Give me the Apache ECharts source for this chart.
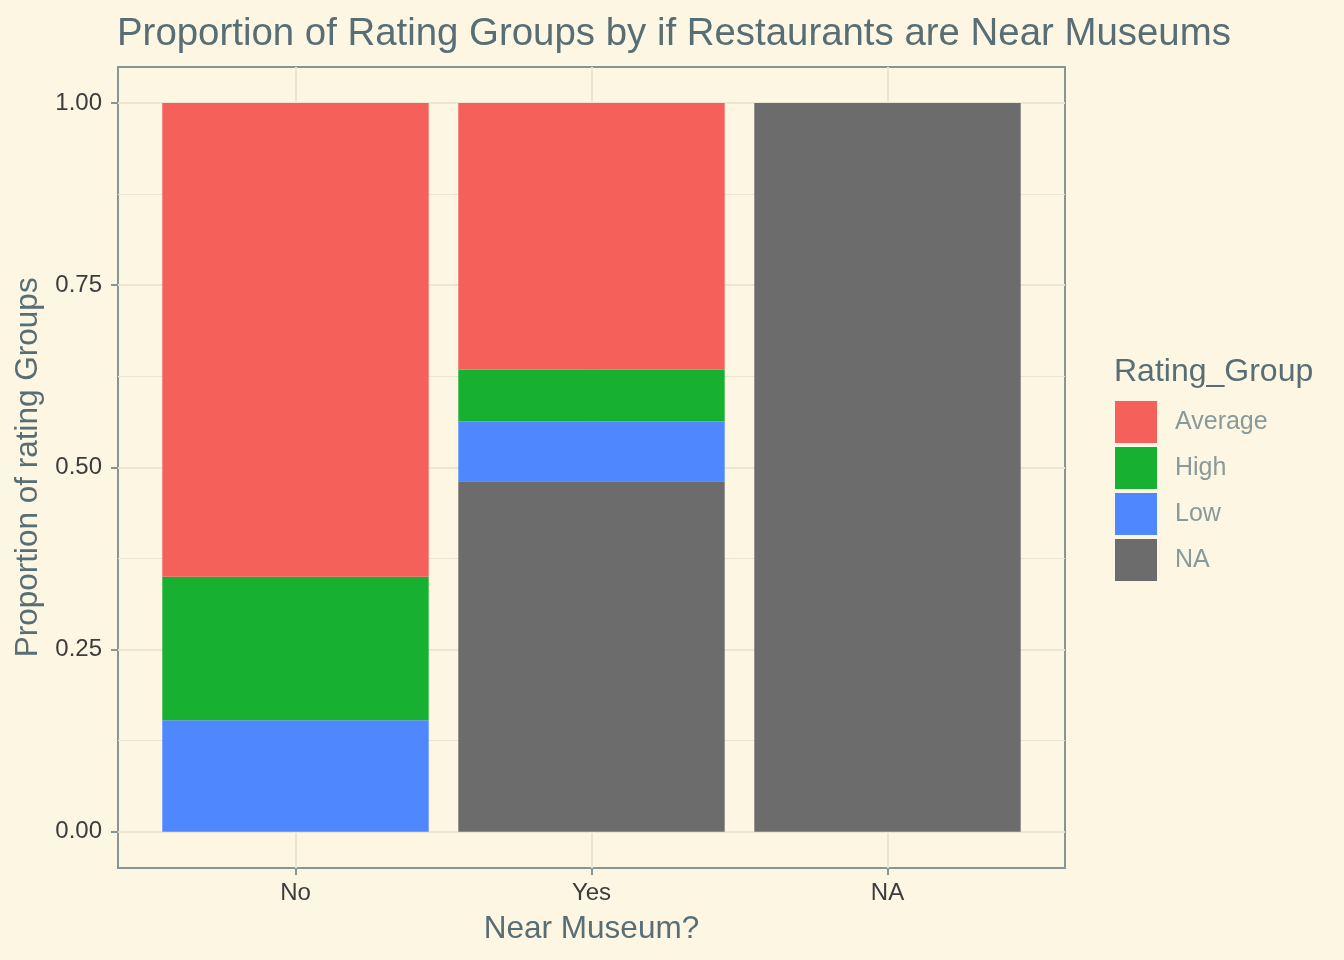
<!DOCTYPE html>
<html>
<head>
<meta charset="utf-8">
<script src="https://cdn.jsdelivr.net/npm/echarts@6/dist/echarts.min.js"></script>
<style>
html,body{margin:0;padding:0;background:#FDF6E3;}
#chart{width:1344px;height:960px;}
</style>
</head>
<body>
<div id="chart"></div>
<script>
const categories = ['No', 'Yes', 'NA'];
const groupNames = ['Average', 'High', 'Low', 'NA'];
const averageVals = [0.650, 0.366, 0];
const highVals = [0.197, 0.071, 0];
const lowVals = [0.153, 0.082, 0];
const naVals = [0, 0.481, 1.0];

const colors = {Average: '#F5605B', High: '#18B030', Low: '#4F87FF', NA: '#6C6C6C'};
const FONT = 'Liberation Sans, Arial, Helvetica, sans-serif';
const gridCol = '#EBE5D2';
const borderCol = '#869596';

const chart = echarts.init(document.getElementById('chart'));

function barSeries(name, vals) {
  return {
    name: name, type: 'bar', stack: 'total', xAxisIndex: 0, yAxisIndex: 0,
    barWidth: '90%', data: vals, itemStyle: {color: colors[name]},
    emphasis: {disabled: true}, z: 3
  };
}

const option = {
  backgroundColor: '#FDF6E3',
  animation: false,
  textStyle: {fontFamily: FONT},
  title: [
    {text: 'Proportion of Rating Groups by if Restaurants are Near Museums', left: 117, top: 15, padding: 0,
     textStyle: {fontFamily: FONT, fontSize: 38.4, fontWeight: 'normal', color: '#586E75'}},
    {text: 'Rating_Group', left: 1114, top: 356, padding: 0,
     textStyle: {fontFamily: FONT, fontSize: 32, fontWeight: 'normal', color: '#586E75'}}
  ],
  legend: {
    data: groupNames, orient: 'vertical', left: 1115, top: 401, padding: 0,
    itemWidth: 42, itemHeight: 42, itemGap: 4, icon: 'rect', selectedMode: false,
    textStyle: {fontFamily: FONT, fontSize: 25, color: '#899A9A', padding: [0, 0, 0, 13]}
  },
  grid: [
    {left: 147.5, right: 308.5, top: 103, bottom: 128.3},
    {left: 118, right: 279, top: 103, bottom: 128.3},
    {left: 295.5, right: 456.5, top: 67, bottom: 92},
    {left: 118, right: 279, top: 67, bottom: 92, show: true, borderColor: borderCol, borderWidth: 2, backgroundColor: 'transparent'}
  ],
  xAxis: [
    {gridIndex: 0, type: 'category', data: categories, show: false},
    {gridIndex: 1, type: 'value', min: 0, max: 1, show: false},
    {gridIndex: 2, type: 'category', data: categories, boundaryGap: false, position: 'bottom',
     axisLine: {show: false},
     axisTick: {show: true, length: 7, lineStyle: {color: borderCol, width: 2}},
     axisLabel: {fontFamily: FONT, fontSize: 24, color: '#3C3C3C', margin: 13},
     splitLine: {show: true, lineStyle: {color: gridCol, width: 2}},
     name: 'Near Museum?', nameLocation: 'middle', nameGap: 45,
     nameTextStyle: {fontFamily: FONT, fontSize: 31.5, color: '#586E75'}},
    {gridIndex: 3, type: 'value', show: false}
  ],
  yAxis: [
    {gridIndex: 0, type: 'value', min: 0, max: 1, show: false},
    {gridIndex: 1, type: 'value', min: 0, max: 1, interval: 0.25,
     axisLine: {show: false},
     axisTick: {show: true, length: 7, lineStyle: {color: borderCol, width: 2}},
     axisLabel: {fontFamily: FONT, fontSize: 24, color: '#3C3C3C', margin: 16,
                 formatter: v => v.toFixed(2)},
     splitLine: {show: true, lineStyle: {color: gridCol, width: 2}},
     minorTick: {show: false, splitNumber: 2},
     minorSplitLine: {show: true, lineStyle: {color: gridCol, width: 1}},
     name: 'Proportion of rating Groups', nameLocation: 'middle', nameGap: 70,
     nameTextStyle: {fontFamily: FONT, fontSize: 31.5, color: '#586E75'}},
    {gridIndex: 2, type: 'value', show: false},
    {gridIndex: 3, type: 'value', show: false}
  ],
  series: [
    barSeries('NA', naVals),
    barSeries('Low', lowVals),
    barSeries('High', highVals),
    barSeries('Average', averageVals)
  ]
};
chart.setOption(option);
</script>
</body>
</html>
